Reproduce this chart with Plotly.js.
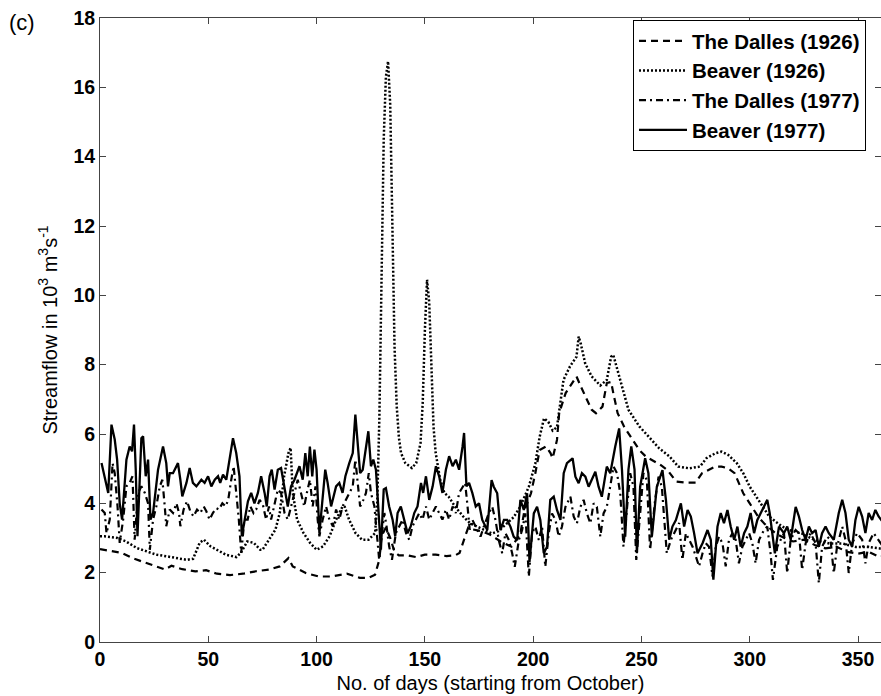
<!DOCTYPE html>
<html>
<head>
<meta charset="utf-8">
<script src="https://cdn.plot.ly/plotly-3.0.1.min.js"></script>
<style>
html,body{margin:0;padding:0;background:#fff;overflow:hidden;}
#chart{width:881px;height:696px;}
</style>
</head>
<body>
<div id="chart"></div>
<script>
// ---- data (day, streamflow in 10^3 m^3/s) ----
const dallesDays1926 = [0,5,10,15,20,25,30,33,38,44,49,54,60,66,72,78,83,87,89,95,101,107,114,117,120,124,127,129,130,132,134,136,138,142,146,150,155,160,164,166,168,170,172,176,180,185,190,194,196,199,201,203,206,208,209,211,212,215,218,220,222,225,227,229,232,234,236,237,239,242,246,249,252,255,259,262,266,270,275,278,281,284,287,290,293,295,297,300,302,304,307,312,316,320,325,330,335,340,345,350,355,360,363];
const dallesFlow1926 = [2.68,2.62,2.57,2.42,2.3,2.2,2.09,2.2,2.1,2.04,2.07,1.97,1.93,1.97,2.04,2.09,2.18,2.42,2.18,1.99,1.89,1.89,1.97,1.9,1.85,1.85,1.94,2.38,3.05,3.3,3.0,2.6,2.5,2.5,2.45,2.52,2.52,2.48,2.5,2.57,2.95,3.3,3.25,3.2,3.1,2.9,2.75,3.1,3.8,4.29,4.87,5.54,5.64,5.45,5.3,5.83,6.6,7.18,7.47,7.66,7.37,6.98,6.7,6.6,6.79,7.47,7.5,7.18,6.6,6.21,5.83,5.54,5.35,5.25,5.1,4.96,4.63,4.6,4.6,4.87,4.96,5.06,5.06,5.01,4.87,4.58,4.29,4.0,3.8,3.6,3.4,3.13,3.0,2.9,2.95,2.8,2.7,2.75,2.6,2.55,2.6,2.45,2.5];

const beaverDays1926 = [0,2,8,12,17,21,26,31,35,40,43,44,46,48,51,54,58,63,65,68,71,74,75,78,81,83,85,87,88,89,91,94,97,100,103,106,109,112,113,115,118,121,124,127,128,129,130,131,132,133,134,135,136,137,138,139,141,144,146,148,149,150,151,152,153,154,155,157,159,161,164,168,171,174,178,181,184,188,191,194,196,198,201,203,205,207,209,211,214,217,220,221,222,224,227,231,234,236,237,239,242,244,249,254,258,263,267,272,277,280,284,287,290,294,297,300,303,306,309,312,315,318,324,330,337,343,349,355,360,363];
const beaverFlow1926 = [3.05,3.05,3.0,2.9,2.71,2.62,2.52,2.47,2.42,2.37,2.4,2.57,2.86,2.95,2.76,2.66,2.52,2.45,2.57,2.9,2.86,2.66,2.66,2.95,3.24,3.72,4.78,5.45,5.6,4.3,3.53,3.14,2.86,2.66,2.76,3.05,3.53,3.91,3.9,3.53,3.14,2.95,2.95,3.14,4.0,6.5,11.0,14.5,16.3,16.75,15.5,11.5,8.5,6.8,5.9,5.45,5.16,5.02,5.16,5.74,6.9,9.0,10.45,9.8,7.8,6.2,5.45,4.7,4.3,4.19,3.9,3.6,3.42,3.33,3.23,3.13,3.2,3.42,3.6,3.9,4.19,4.48,5.15,5.92,6.45,6.35,6.1,6.2,7.56,7.95,8.23,8.81,8.6,8.04,7.66,7.4,7.56,8.23,8.28,7.85,7.18,6.7,6.22,5.88,5.6,5.35,5.06,5.01,5.06,5.3,5.44,5.49,5.4,5.16,4.87,4.48,4.19,3.9,3.62,3.47,3.33,3.23,3.13,2.94,2.84,2.84,2.74,2.74,2.7,2.7];

const dallesDays1977 = [0.7,2.2,3,4.5,5.8,6.8,8.1,9.1,10.7,12.2,13.7,15,16,17.6,19.1,20.7,22.2,23,24.5,26,27.6,28.8,29.9,30.6,32.2,33.7,35.3,36.5,37.1,38.6,40.2,41.7,43.2,44.8,46.3,47.9,49.1,50.6,52.1,53.7,54.9,56.5,58,59.2,60.6,61.7,62.9,64.1,65.2,66.7,68.2,69.4,70.9,72.1,73.7,75.2,76.7,78,79,80.6,82.1,83.6,85.2,86.7,88.2,89.8,91.3,92.8,94.3,95.5,96.9,98.2,99.5,100.5,101.3,102.8,104.4,105.9,107.5,109,110.5,112,113.6,115.1,116.7,117.9,119,120.1,121.6,122.8,124.1,125.1,126.7,127.7,128.9,130,131.3,132.3,133.5,134.8,136.6,138.2,139.7,141.3,142.8,144.3,145.9,147.4,148.9,150.5,152,153.6,155.1,156.6,158.1,159.7,161.2,162.8,164.3,165.8,167.4,168.6,169.7,170.7,171.9,173.5,175.7,177.2,179.5,181.1,182.6,184.1,185.7,187.2,188.8,190.3,191.5,193.4,194.9,196.4,198,199.5,201,202.6,204.1,205.6,207.2,208.7,210.3,211.8,213.3,214.9,217.2,218.7,220.2,221.8,223.3,224.8,226.4,227.9,229.4,231,232.5,234,235.6,237.1,238.7,240.2,241.7,243.3,244.8,246.3,247.6,249.4,250.9,252.5,254,256.3,257.9,259.4,261.7,263.6,265.9,267.4,268.9,270.5,272,273.6,275.1,276.6,278.2,279.7,281.2,282.8,284.3,285.8,287.4,288.9,290.4,292,293.5,295,296.6,298.1,299.7,301.2,302.7,304.3,306.6,308.1,309.6,310.7,312.7,314.3,315.8,317.3,318.9,321.2,322.7,324.2,325.8,328.1,330.4,331.9,333.4,335.7,337.3,338.8,340.3,342.7,344.2,345.7,347.3,349.6,351.9,353.4,354.9,357.2,359.5,361];
const dallesFlow1977 = [3.82,3.72,3.14,3.53,5.16,4.87,3.91,2.86,3.53,4.49,4.59,4.78,2.95,4.3,4.49,4.3,4.0,2.66,3.53,3.91,4.49,4.68,3.91,3.34,3.82,3.72,4.0,3.72,3.34,3.82,4.06,3.77,3.62,3.82,3.72,3.91,3.77,3.53,3.72,3.86,3.82,4.0,3.91,4.1,4.68,5.07,4.3,3.53,2.57,3.53,3.53,3.91,3.72,3.82,4.1,3.96,3.53,3.91,3.53,4.0,4.4,4.3,3.72,3.53,3.91,4.3,4.68,4.3,3.91,4.3,4.68,3.91,4.49,3.53,3.05,3.53,3.91,3.53,3.34,3.82,3.53,3.91,4.1,4.3,4.49,5.26,4.49,3.91,4.1,4.3,4.87,4.3,3.91,3.14,2.37,3.05,3.72,3.34,2.76,2.37,3.14,3.34,3.53,3.14,2.95,3.34,3.53,3.72,3.53,3.91,3.53,3.72,3.91,3.72,3.53,3.82,3.53,3.91,3.72,4.3,4.49,4.59,3.91,3.24,3.53,3.34,3.04,3.33,3.71,3.9,3.52,2.94,2.56,3.14,2.94,2.56,2.17,2.94,3.23,3.71,1.89,3.14,3.33,2.94,3.33,2.17,3.14,3.71,3.52,3.04,3.33,3.9,4.19,3.62,3.42,3.9,4.1,3.71,3.42,4.0,3.9,3.04,3.71,3.9,4.48,5.06,4.87,4.29,2.75,3.9,4.87,4.48,2.37,3.71,4.87,4.67,2.66,4.1,4.77,4.48,2.56,2.95,3.23,3.43,2.37,3.14,2.95,2.75,2.47,2.18,2.56,2.85,2.75,1.89,2.75,3.04,2.85,2.18,2.95,3.14,2.95,2.27,2.75,2.95,3.14,2.85,2.27,2.95,3.23,3.33,2.56,1.79,2.75,2.95,3.14,1.99,2.95,3.23,3.14,2.08,2.85,3.14,2.85,1.7,2.75,3.04,2.95,1.99,2.75,3.33,2.95,1.99,2.85,3.14,2.95,2.27,2.85,3.14,2.95,2.8];

const beaverDays1977 = [0.7,2.2,3.8,5.3,6.8,7.9,9.1,10.2,12.2,13.7,14.8,15.7,16.5,17.3,19.1,19.9,21.1,22.2,23.3,24.5,26.8,29.1,30.6,31.4,32.2,33.7,36,37.1,38,39.9,41.4,42.9,44.5,46.8,48.3,49.9,51.4,53,54.5,55.5,56.8,58.3,59.8,61.4,62.9,64.4,65.5,66.7,68.3,69.8,71.3,72.9,74.4,76,77,78.3,79.3,80.6,82.1,83.6,85.2,86.7,88.2,89.8,92.1,93.6,94.8,95.9,96.9,98,99,100,101.3,102.5,104,105.1,106.7,109,110.5,112,113.3,115.1,116.7,117.9,119,120.1,121.3,122.5,123.9,125.1,126.2,127.4,128.6,129.7,131,132,133.5,135.1,136.3,137.4,138.9,140.5,142,143.5,145.1,146.6,148.2,149.2,150.5,152,153.6,155.1,156.6,158.1,159.7,161.2,162.8,164.3,165.8,167.4,168.1,169.2,170.4,171.9,173.5,175,176.5,178.8,180.8,181.8,183.4,184.9,186.5,188,189.5,191,192.6,194.1,195.7,197.2,198.3,200.3,201.8,203.3,204.9,206.4,207.9,209.5,211,212.6,214.1,215.6,217.2,218.2,219.5,221,222.5,224.1,225.6,227.1,228.7,230.2,231.7,234,235.6,237.9,239.7,241,242.5,244,245.3,246.8,247.9,249.4,251.7,253.2,254.8,257.1,259.7,261.3,262.8,264.3,265.9,268.2,269.7,271.3,272.8,274.3,275.9,278.2,280.5,282,283.2,285.1,286.6,288.1,289.7,291.2,292.8,294.3,295.8,297.4,298.9,300.4,302,303.5,305,306.6,308.1,309.2,310.4,311.6,313.5,315.8,317.3,318.9,321.2,322.7,324.2,325.8,327.3,328.8,330.4,331.9,333.4,335,336.5,338.8,341.1,342.7,344.2,345.7,347.3,348.8,350.3,351.9,353.4,354.9,356.5,358,359.5,361];
const beaverFlow1977 = [5.16,4.78,4.3,6.27,5.84,5.26,4.0,3.53,5.26,5.64,5.5,6.27,4.97,3.05,5.88,5.93,4.78,5.26,3.53,3.72,4.97,5.64,5.16,4.49,4.87,4.87,5.16,4.68,4.2,4.59,5.02,4.59,4.49,4.68,4.59,4.78,4.49,4.68,4.78,4.59,4.83,4.68,5.26,5.88,5.45,4.78,3.05,3.53,4.06,4.3,4.0,4.3,4.78,4.3,3.91,4.78,4.97,4.4,4.97,5.02,4.49,3.91,4.49,4.68,5.07,4.68,5.45,4.78,5.64,4.78,5.55,4.97,3.14,3.9,4.97,4.59,3.91,4.49,4.59,4.3,4.78,5.16,5.45,6.56,5.64,4.87,4.97,5.45,6.08,5.07,5.26,4.97,3.91,2.66,4.4,4.44,3.91,3.53,3.05,3.72,3.91,3.53,3.14,3.34,3.72,3.91,4.59,4.3,4.78,4.1,4.49,5.07,4.78,4.3,4.97,5.36,5.07,5.26,4.97,5.64,6.03,4.49,4.59,4.3,3.91,4.0,3.52,3.23,4.67,4.48,4.29,3.23,3.52,3.52,3.33,3.04,2.94,4.1,3.81,4.29,2.3,3.71,3.9,3.52,2.56,2.75,4.1,4.19,3.81,3.52,4.87,5.16,5.25,5.3,4.77,4.58,4.87,4.77,4.48,4.67,4.91,4.48,4.19,5.06,4.87,5.64,6.16,4.97,3.04,4.97,5.64,4.97,2.56,4.48,5.3,4.87,3.04,4.48,4.96,4.1,2.95,3.33,3.52,4.0,3.33,3.81,3.62,3.14,2.56,2.85,3.23,2.95,1.8,3.33,3.72,3.43,3.81,3.33,2.95,3.33,2.75,3.14,3.33,3.72,3.14,3.52,3.72,3.9,4.1,3.72,3.14,2.56,3.33,3.14,3.33,2.95,3.9,3.62,3.23,2.95,3.33,3.14,3.23,2.75,3.14,3.33,3.14,2.95,3.72,4.1,3.72,2.95,2.75,3.52,3.9,3.62,3.14,3.72,3.52,3.81,3.62,3.5];

const seriesNames = ["The Dalles (1926)", "Beaver (1926)", "The Dalles (1977)", "Beaver (1977)"];
const xTicks = [0, 50, 100, 150, 200, 250, 300, 350];
const yTicks = [0, 2, 4, 6, 8, 10, 12, 14, 16, 18];

// ---- drawing ----
const FONT = "Liberation Sans, Arial, Helvetica, sans-serif";
const mk = (x, y, name, dash, w) => ({
  x: x, y: y, name: name, type: "scatter", mode: "lines",
  line: {color: "#000", width: w, dash: dash}
});
const traces = [
  mk(dallesDays1926, dallesFlow1926, seriesNames[0], "7px,5px", 2.2),
  mk(beaverDays1926, beaverFlow1926, seriesNames[1], "2px,2px", 2.5),
  mk(dallesDays1977, dallesFlow1977, seriesNames[2], "7px,4px,2px,4px", 2.2),
  mk(beaverDays1977, beaverFlow1977, seriesNames[3], "solid", 2.3)
];

const L = 100, T = 18, B = 54, W = 881, H = 696;
const pw = W - L, ph = H - T - B;
const axisCommon = {
  showgrid: false, zeroline: false, showline: true, linecolor: "#444", linewidth: 1,
  mirror: "ticks", ticks: "inside", ticklen: 6, tickcolor: "#444",
  tickfont: {family: FONT, size: 19.5, color: "#000", weight: "bold"}
};
const layout = {
  width: W, height: H,
  margin: {l: L, r: 0, t: T, b: B, pad: 0},
  paper_bgcolor: "#fff", plot_bgcolor: "#fff",
  showlegend: true,
  legend: {
    x: (633 - L) / pw, xanchor: "left",
    y: (H - B - 20) / ph, yanchor: "top",
    bgcolor: "#fff", bordercolor: "#000", borderwidth: 1,
    font: {family: FONT, size: 20.5, color: "#000", weight: "bold"},
    itemwidth: 48,
    tracegroupgap: 0
  },
  xaxis: Object.assign({}, axisCommon, {
    range: [0, 360.6], tickvals: xTicks, ticktext: xTicks.map(String),
    title: {text: "No. of days (starting from October)", font: {family: FONT, size: 20, color: "#000"}, standoff: 6}
  }),
  yaxis: Object.assign({}, axisCommon, {
    range: [0, 18], tickvals: yTicks, ticktext: yTicks.map(String),
    title: {text: "Streamflow in 10<sup>3</sup> m<sup>3</sup>s<sup>-1</sup>", font: {family: FONT, size: 20, color: "#000"}, standoff: 10}
  }),
  annotations: [{
    text: "(c)", xref: "paper", yref: "paper",
    x: (7 - L) / pw, xanchor: "left", y: (H - B - 8) / ph, yanchor: "top",
    showarrow: false, font: {family: FONT, size: 22, color: "#000"}
  }]
};
Plotly.newPlot("chart", traces, layout, {displayModeBar: false, staticPlot: true});
</script>
</body>
</html>
